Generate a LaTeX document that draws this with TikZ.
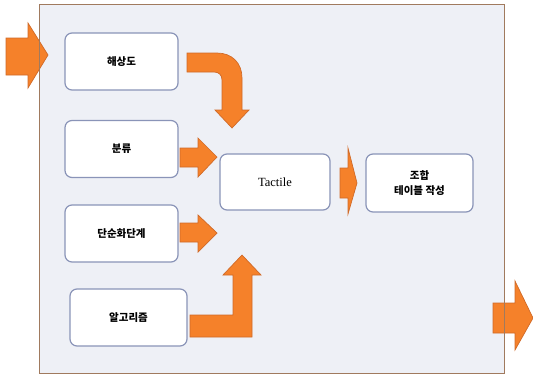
\documentclass[tikz,border=0pt]{standalone}
\usepackage{fontspec}
\newfontfamily\kr{Noto Sans CJK KR}
\setmainfont{Liberation Serif}
\definecolor{bgfill}{HTML}{EEF0F6}
\definecolor{frame}{HTML}{A07A5E}
\definecolor{boxline}{HTML}{8A94B8}
\definecolor{arrfill}{HTML}{F5812A}
\definecolor{arrline}{HTML}{D06A28}
\begin{document}
\begin{tikzpicture}[x=1pt,y=-1pt,
  blk/.style={draw=boxline,line width=1.2pt,fill=white,rounded corners=7pt,minimum width=113pt,minimum height=57pt,align=center,inner sep=0pt},
  krtext/.style={font=\kr\bfseries\fontsize{10.5}{15}\selectfont},
  barrow/.style={fill=arrfill,draw=arrline,line width=0.7pt,line join=miter}]
\useasboundingbox (0,0) rectangle (533,376);
\node[fill=bgfill,minimum width=464pt,minimum height=368pt,inner sep=0pt] (frame) at (272,189) {};
\node[blk,krtext] (res) at (121.5,61.5) {해상도};
\node[blk,krtext] (cls) at (121.5,149) {분류};
\node[blk,krtext] (simp) at (121.5,233.5) {단순화단계};
\node[blk,krtext,minimum width=117pt] (alg) at (128.5,317.5) {알고리즘};
\node[blk,minimum width=110pt,minimum height=56pt,font=\fontsize{12.5}{16}\selectfont] (tac) at (275,182) {Tactile};
\node[blk,krtext,minimum width=107pt,minimum height=58pt] (tab) at (419.5,183) {조합\\테이블 작성};
% input arrow
\draw[barrow] (6,38) -- (28,38) -- (28,23) -- (48,55) -- (28,88) -- (28,75) -- (6,75) -- cycle;
% output arrow
\draw[barrow] (493,303) -- (515,303) -- (515,281) -- (533,318) -- (515,350) -- (515,333) -- (493,333) -- cycle;
% top bent arrow
\draw[barrow] (187,53) -- (217,53) .. controls (232,53) and (242,63) .. (242,78) -- (242,110) -- (249,110) -- (232,128) -- (215,110) -- (222,110) -- (222,80) .. controls (222,75) and (219,72) .. (214,72) -- (187,72) -- cycle;
% bottom bent arrow
\draw[barrow] (190,315) -- (233,315) -- (233,275) -- (223,275) -- (242,255) -- (261,275) -- (252,275) -- (252,337) -- (190,337) -- cycle;
% small arrows
\draw[barrow] (180,148) -- (198,148) -- (198,138) -- (217,157) -- (198,177) -- (198,167) -- (180,167) -- cycle;
\draw[barrow] (180,223) -- (198,223) -- (198,215) -- (217,233) -- (198,252) -- (198,242) -- (180,242) -- cycle;
\draw[barrow] (340,168) -- (348,168) -- (348,148) -- (357,183) -- (348,214) -- (348,198) -- (340,198) -- cycle;
% frame border on top
\draw[frame,line width=1.2pt] (frame.north west) rectangle (frame.south east);
\end{tikzpicture}
\end{document}
